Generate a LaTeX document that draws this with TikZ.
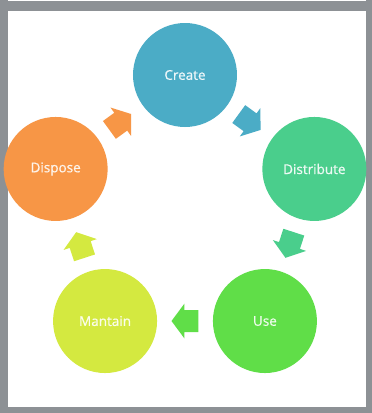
\documentclass[tikz,border=0pt]{standalone}
\usepackage{fontspec}
\setmainfont{Open Sans}
\newfontfamily\stagefont{Open Sans}[FakeBold=0.7]
\usetikzlibrary{calc}
\begin{document}
\definecolor{framegray}{RGB}{141,145,149}
\definecolor{ccreate}{RGB}{75,172,198}
\definecolor{cdistribute}{RGB}{74,206,140}
\definecolor{cuse}{RGB}{96,222,72}
\definecolor{cmantain}{RGB}{212,233,64}
\definecolor{cdispose}{RGB}{247,150,70}
\begin{tikzpicture}[x=1pt,y=1pt,
  stage/.style={circle, fill=#1, minimum size=104pt, inner sep=0pt,
    text=white!90!#1, font=\stagefont\fontsize{13.5}{16}\selectfont},
  blockarrow/.pic={\fill[#1] (-13.5,-11) -- (0.5,-11) -- (0.5,-17.5) -- (13.5,0)
      -- (0.5,17.5) -- (0.5,11) -- (-13.5,11) -- cycle;}]
  % frame and white sheet
  \fill[framegray] (-185,-202) rectangle (187,211);
  \fill[white] (-177,-196) rectangle (181,200);
  \fill[white] (-177,210) rectangle (181,211);
  \useasboundingbox (-185,-202) rectangle (187,211);
  % the five stages on a pentagon
  \node[stage=ccreate]     (create)     at (90:136)  {Create};
  \node[stage=cdistribute] (distribute) at (18:136)  {Distribute};
  \node[stage=cuse]        (use)        at (-54:136) {Use};
  \node[stage=cmantain]    (mantain)    at (-126:136) {Mantain};
  \node[stage=cdispose]    (dispose)    at (162:136) {Dispose};
  % block arrows between consecutive stages
  \pic[rotate=-36]  at ($ (create)!0.5!(distribute) $)  {blockarrow=ccreate};
  \pic[rotate=-108] at ($ (distribute)!0.5!(use) $)     {blockarrow=cdistribute};
  \pic[rotate=180]  at ($ (use)!0.5!(mantain) $)        {blockarrow=cuse};
  \pic[rotate=108]  at ($ (mantain)!0.5!(dispose) $)    {blockarrow=cmantain};
  \pic[rotate=36]   at ($ (dispose)!0.5!(create) $)     {blockarrow=cdispose};
\end{tikzpicture}
\end{document}
